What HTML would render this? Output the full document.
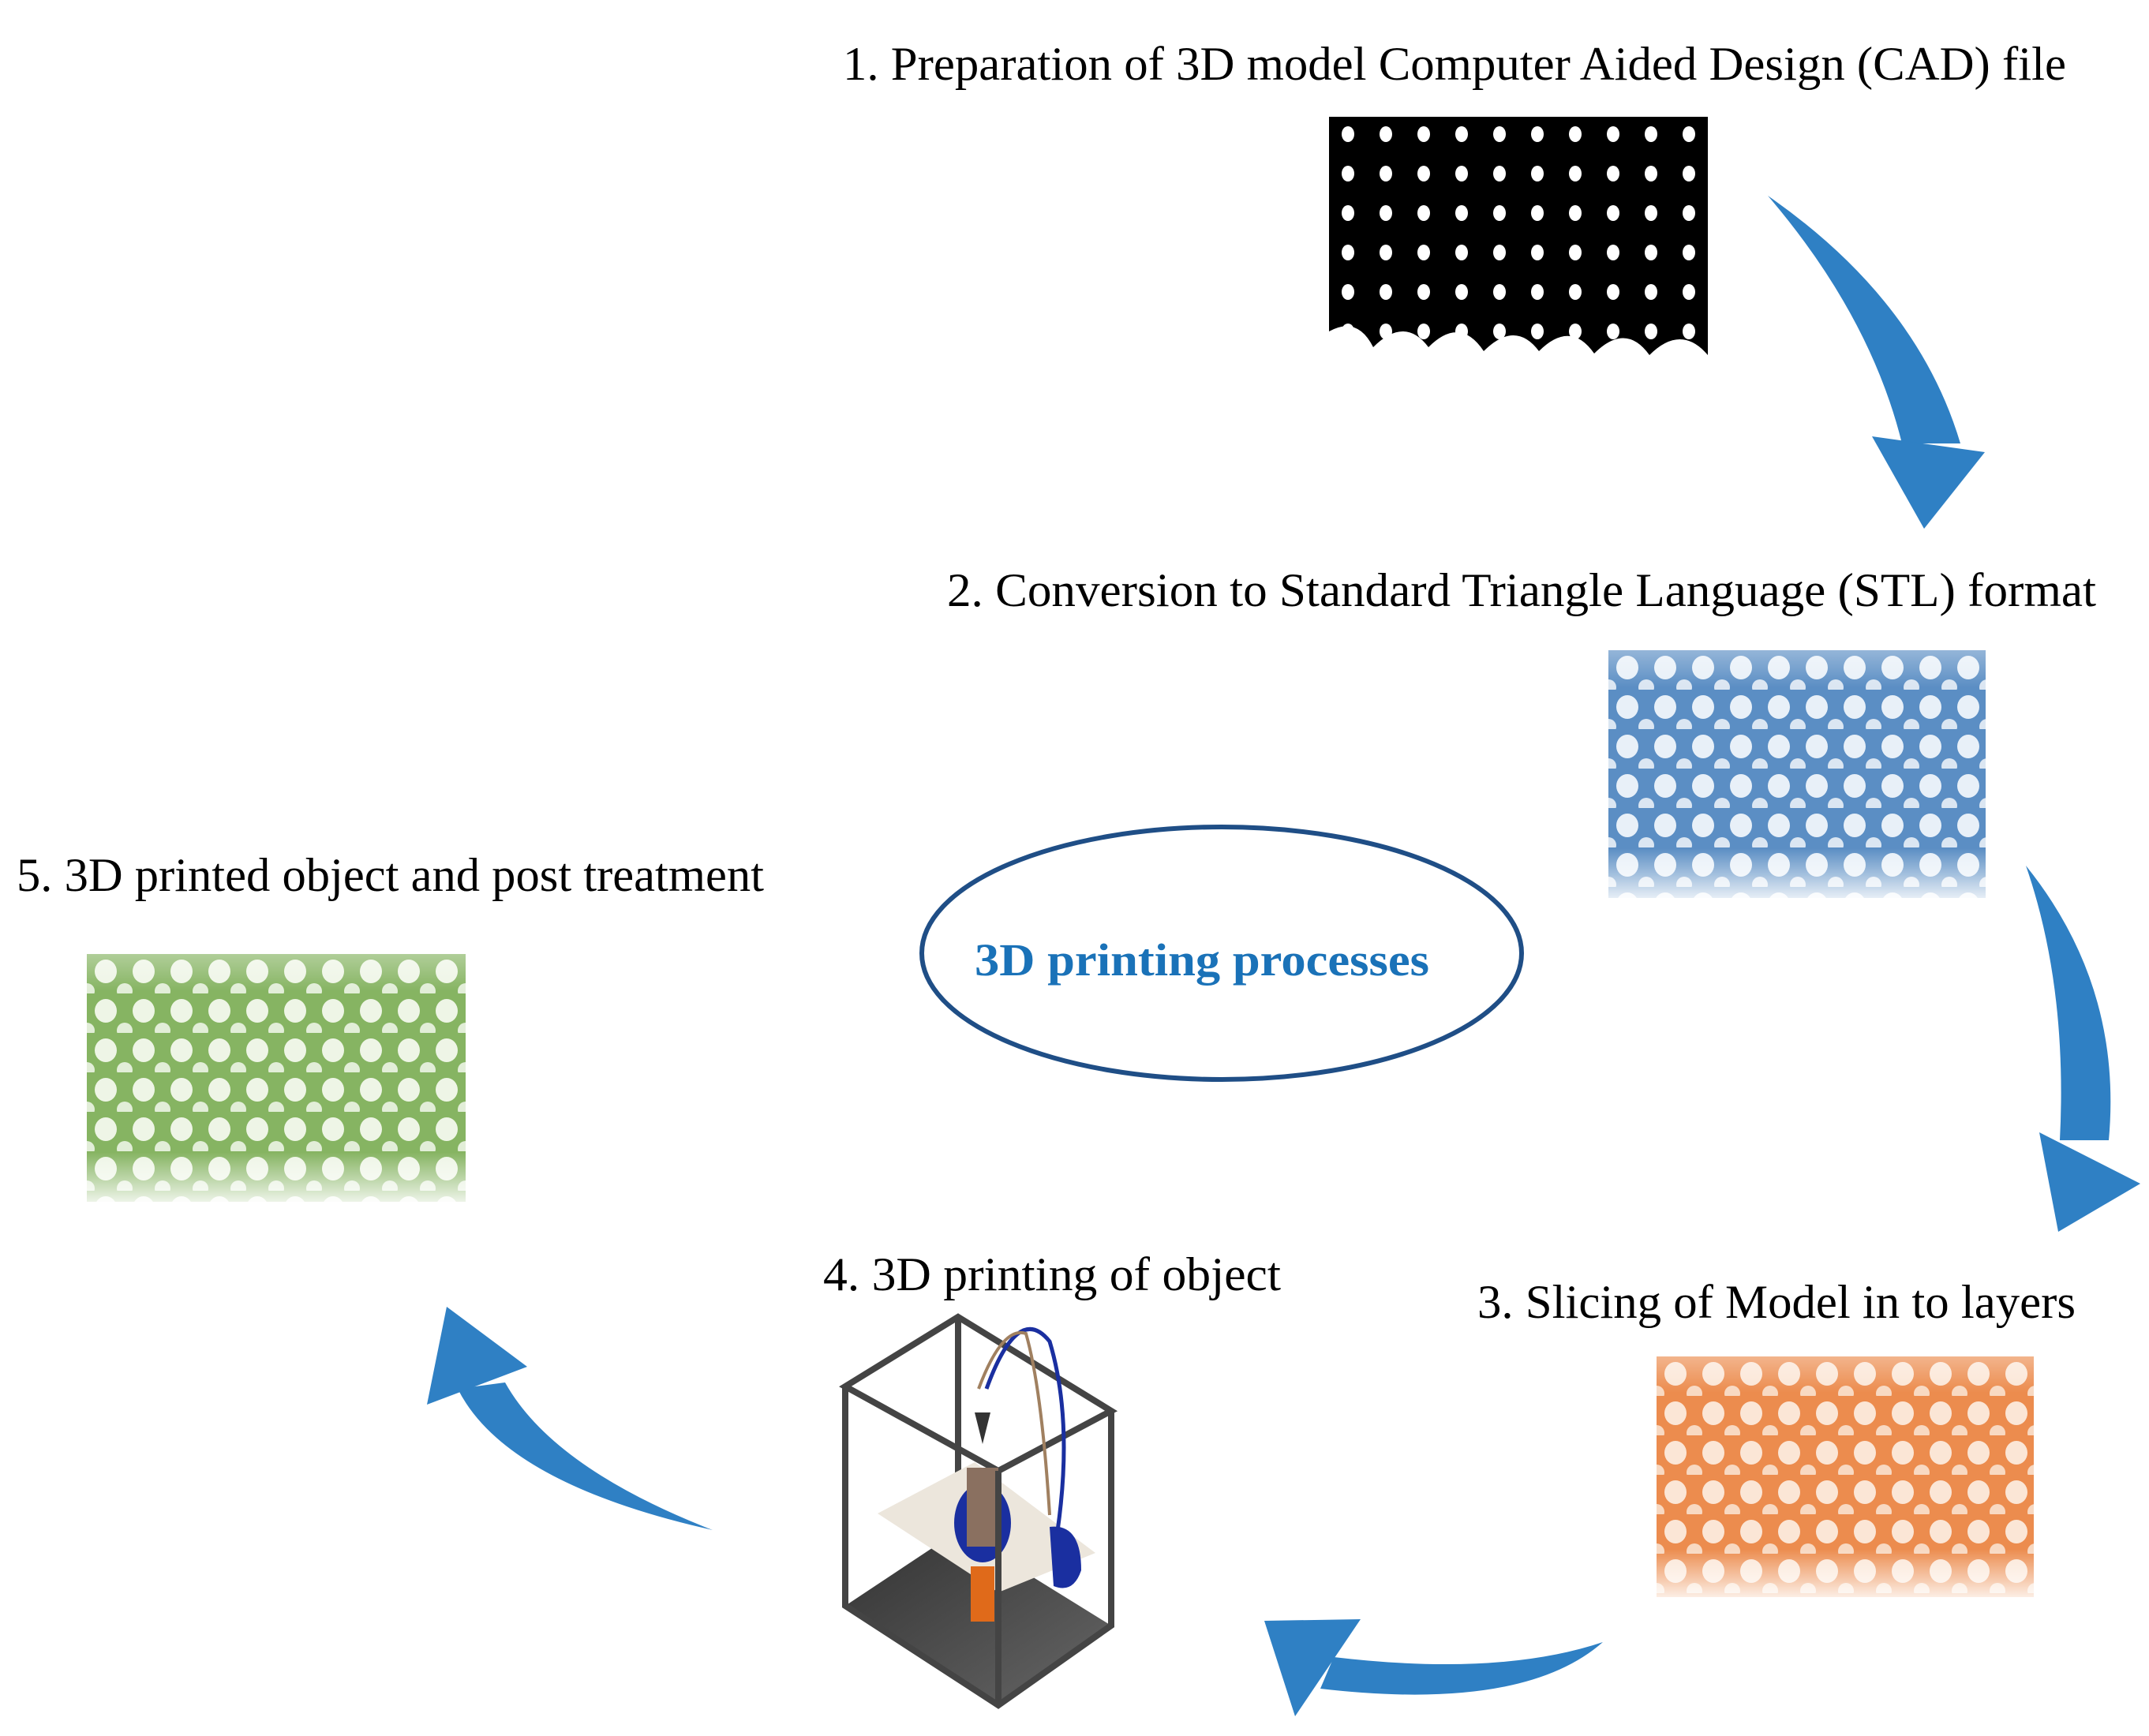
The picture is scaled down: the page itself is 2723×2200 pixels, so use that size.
<!DOCTYPE html>
<html><head><meta charset="utf-8"><style>
html,body{margin:0;padding:0;background:#fff;}
svg{display:block;}
text{font-family:"Liberation Serif",serif;}
</style></head><body>
<svg width="2723" height="2200" viewBox="0 0 2723 2200" xmlns="http://www.w3.org/2000/svg">
<defs>
<pattern id="pb" x="2038" y="824" width="48" height="50" patternUnits="userSpaceOnUse">
<rect width="48" height="50" fill="#5b8ec4"/><ellipse cx="24" cy="22" rx="14" ry="15" fill="#e8f0f8"/><ellipse cx="0" cy="47" rx="10" ry="10" fill="#dbe6f2"/><ellipse cx="48" cy="47" rx="10" ry="10" fill="#dbe6f2"/></pattern>
<pattern id="po" x="2099" y="1719" width="48" height="50" patternUnits="userSpaceOnUse">
<rect width="48" height="50" fill="#ec8c4e"/><ellipse cx="24" cy="22" rx="14" ry="15" fill="#fbe6d6"/><ellipse cx="0" cy="47" rx="10" ry="10" fill="#f8d9c2"/><ellipse cx="48" cy="47" rx="10" ry="10" fill="#f8d9c2"/></pattern>
<pattern id="pg" x="110" y="1209" width="48" height="50" patternUnits="userSpaceOnUse">
<rect width="48" height="50" fill="#86b462"/><ellipse cx="24" cy="22" rx="14" ry="15" fill="#eef5e6"/><ellipse cx="0" cy="47" rx="10" ry="10" fill="#e2eed8"/><ellipse cx="48" cy="47" rx="10" ry="10" fill="#e2eed8"/></pattern>
<pattern id="pk" x="1684" y="148" width="48" height="50" patternUnits="userSpaceOnUse">
<rect width="48" height="50" fill="#000"/><ellipse cx="24" cy="22" rx="8" ry="10" fill="#fff"/></pattern>
<linearGradient id="fade" x1="0" y1="0" x2="0" y2="1">
<stop offset="0" stop-color="#fff" stop-opacity="0.35"/><stop offset="0.15" stop-color="#fff" stop-opacity="0"/><stop offset="0.8" stop-color="#fff" stop-opacity="0"/><stop offset="1" stop-color="#fff" stop-opacity="0.85"/></linearGradient>
<linearGradient id="plate" x1="0" y1="0" x2="1" y2="1"><stop offset="0" stop-color="#333"/><stop offset="1" stop-color="#666"/></linearGradient>
</defs>

<text x="1068" y="101" font-size="60" textLength="1550" lengthAdjust="spacingAndGlyphs">1. Preparation of 3D model Computer Aided Design (CAD) file</text>
<text x="1200" y="768" font-size="60" textLength="1456" lengthAdjust="spacingAndGlyphs">2. Conversion to Standard Triangle  Language  (STL) format</text>
<text x="1872" y="1670" font-size="60" textLength="758" lengthAdjust="spacingAndGlyphs">3. Slicing  of Model in to layers</text>
<text x="1043" y="1635" font-size="60" textLength="580" lengthAdjust="spacingAndGlyphs">4. 3D printing  of object</text>
<text x="21" y="1129" font-size="60" textLength="947" lengthAdjust="spacingAndGlyphs">5. 3D printed  object and post treatment</text>

<rect x="1684" y="148" width="480" height="302" fill="url(#pk)"/>
<path d="M1684 420 Q1720 400 1740 440 Q1780 400 1810 440 Q1850 400 1880 445 Q1920 405 1950 445 Q1990 405 2020 448 Q2060 408 2090 450 Q2130 410 2164 450 L2164 455 L1684 455Z" fill="#fff"/>
<rect x="2038" y="824" width="478" height="314" fill="url(#pb)"/><rect x="2038" y="824" width="478" height="314" fill="url(#fade)"/>
<rect x="2099" y="1719" width="478" height="305" fill="url(#po)"/><rect x="2099" y="1719" width="478" height="305" fill="url(#fade)"/>
<rect x="110" y="1209" width="480" height="314" fill="url(#pg)"/><rect x="110" y="1209" width="480" height="314" fill="url(#fade)"/>

<ellipse cx="1548" cy="1208" rx="380" ry="160" fill="none" stroke="#1f4e86" stroke-width="6"/>
<text x="1235" y="1236" font-size="58" font-weight="bold" fill="#1a72b8" textLength="576" lengthAdjust="spacingAndGlyphs">3D printing processes</text>

<g fill="#2f80c4">
<path d="M2240 248 Q2430 380 2484 562 L2410 562 Q2370 400 2240 248Z"/>
<path d="M2372 553 L2515 573 L2438 670Z"/>
<path d="M2567 1097 Q2690 1250 2672 1445 L2610 1445 Q2620 1250 2567 1097Z"/>
<path d="M2584 1435 L2712 1500 L2608 1561Z"/>
<path d="M2031 2081 Q1930 2170 1673 2140 L1690 2100 Q1900 2125 2031 2081Z"/>
<path d="M1602 2054 L1724 2052 L1641 2175Z"/>
<path d="M903 1939 Q640 1880 580 1760 L640 1752 Q700 1860 903 1939Z"/>
<path d="M566 1656 L541 1780 L668 1732Z"/>
</g>

<g stroke="#444" stroke-width="8" fill="none">
<path d="M1214 1669 L1408 1788 L1265 1864 L1071 1757Z"/>
<path d="M1214 1669 L1214 1940"/>
</g>
<path d="M1071 2035 L1214 1940 L1408 2060 L1265 2161Z" fill="url(#plate)"/>
<path d="M1112 1918 L1235 1853 L1388 1968 L1265 2018Z" fill="#ece6dc"/>
<ellipse cx="1245" cy="1930" rx="36" ry="50" fill="#1a2fa0"/>
<rect x="1225" y="1860" width="40" height="100" fill="#8a7060"/>
<rect x="1230" y="1985" width="30" height="70" fill="#e06a1a"/>
<path d="M1330 1935 Q1370 1930 1370 1990 Q1360 2020 1335 2010Z" fill="#1a2fa0"/>
<path d="M1250 1760 Q1290 1650 1330 1700 Q1360 1800 1340 1940" stroke="#1a2fa0" stroke-width="5" fill="none"/>
<path d="M1240 1760 Q1270 1680 1300 1690 Q1320 1760 1330 1920" stroke="#a08060" stroke-width="4" fill="none"/>
<path d="M1235 1790 L1255 1790 L1245 1830Z" fill="#333"/>
<g stroke="#444" stroke-width="8" fill="none">
<path d="M1071 1757 L1071 2035 L1265 2161 L1408 2060 L1408 1788"/>
<path d="M1265 1864 L1265 2161"/>
</g>
</svg>
</body></html>
